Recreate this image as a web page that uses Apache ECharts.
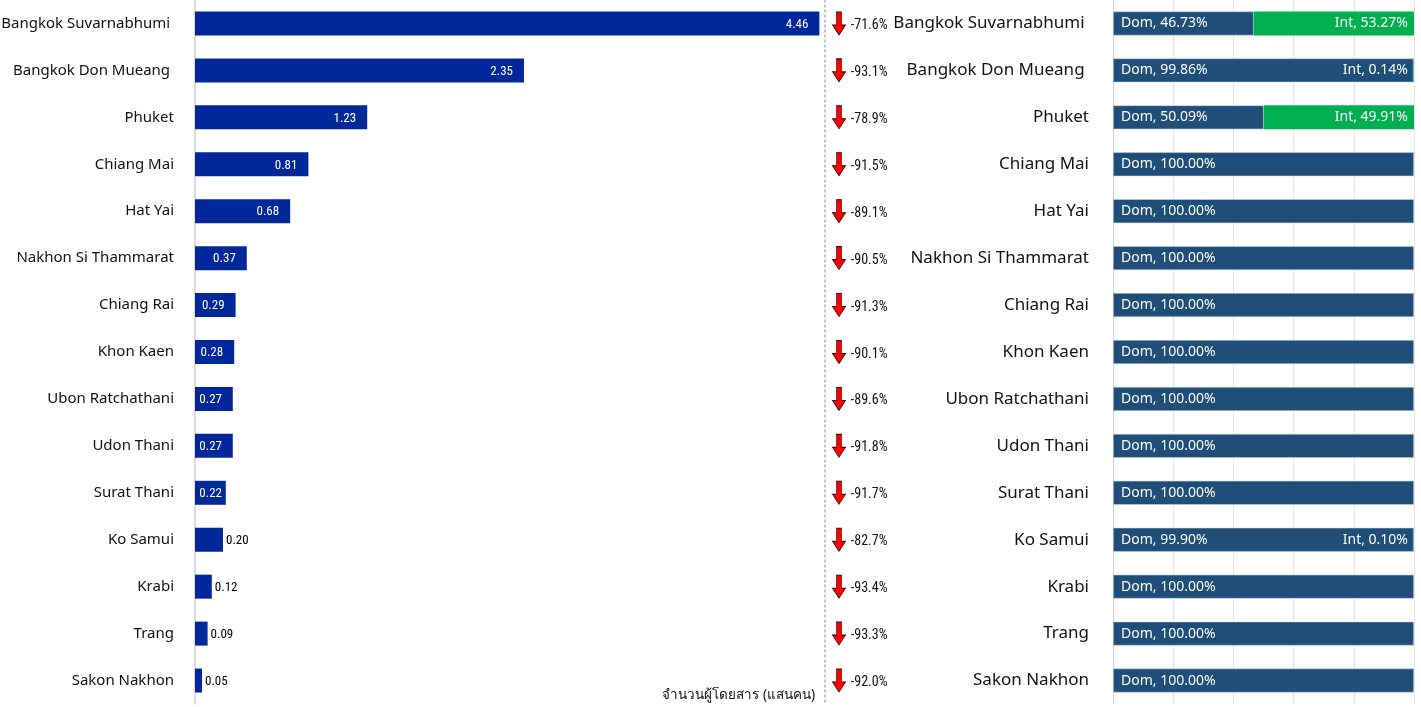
<!DOCTYPE html>
<html>
<head>
<meta charset="utf-8">
<script src="https://cdn.jsdelivr.net/npm/echarts@6/dist/echarts.min.js"></script>
<style>
html,body{margin:0;padding:0;background:#fff;}
#c{width:1421px;height:707px;}
</style>
</head>
<body>
<div id="c"></div>
<script>
const airports = ['Bangkok Suvarnabhumi ','Bangkok Don Mueang ','Phuket','Chiang Mai','Hat Yai','Nakhon Si Thammarat','Chiang Rai','Khon Kaen','Ubon Ratchathani','Udon Thani','Surat Thani','Ko Samui','Krabi','Trang','Sakon Nakhon'];
const passengers = [4.46,2.35,1.23,0.81,0.68,0.37,0.29,0.28,0.27,0.27,0.22,0.20,0.12,0.09,0.05];
const changePct = [-71.6,-93.1,-78.9,-91.5,-89.1,-90.5,-91.3,-90.1,-89.6,-91.8,-91.7,-82.7,-93.4,-93.3,-92.0];
const domShare = [46.73,99.86,50.09,100,100,100,100,100,100,100,100,99.90,100,100,100];
const intShare = [53.27,0.14,49.91,0,0,0,0,0,0,0,0,0.10,0,0,0];
const xAxisName = 'จำนวนผู้โดยสาร (แสนคน)';

const chart = echarts.init(document.getElementById('c'));
const F = '"Noto Sans", "Liberation Sans", sans-serif';
const NARROW = '"Liberation Sans Narrow", "Roboto Condensed", "Liberation Sans", sans-serif';
const TOP = 0, H = 704;
const LEFT_W = 630, LEFT_MAX = 4.5;

const passData = passengers.map(v => {
  const inside = v > 0.21;
  const px = v / LEFT_MAX * LEFT_W;
  return {
    value: v,
    label: inside
      ? {position: 'insideRight', distance: Math.max(3, Math.min(11, px - 27)), color: '#ffffff'}
      : {position: 'right', distance: 3, color: '#000000'}
  };
});

chart.setOption({
  animation: false,
  title: {
    text: xAxisName,
    right: 601, bottom: 0,
    textStyle: {fontFamily: F, fontSize: 13.5, fontWeight: 'normal', color: '#111'}
  },
  grid: [
    {left: 195, top: TOP, width: LEFT_W, height: H, containLabel: false, outerBoundsMode: 'none'},
    {left: 825, top: TOP, width: 80, height: H, containLabel: false, outerBoundsMode: 'none'},
    {left: 1113, top: TOP, right: 7, height: H, containLabel: false, outerBoundsMode: 'none'}
  ],
  xAxis: [
    {gridIndex: 0, type: 'value', min: 0, max: LEFT_MAX, show: false},
    {gridIndex: 1, type: 'value', min: 0, max: 1, show: false},
    {gridIndex: 2, type: 'value', min: 0, max: 100, interval: 20,
      axisLabel: {show: false}, axisLine: {show: false}, axisTick: {show: false},
      splitLine: {show: true, lineStyle: {color: '#e6e6e6', width: 1}}}
  ],
  yAxis: [
    {gridIndex: 0, type: 'category', data: airports, inverse: true,
      axisLine: {show: true, lineStyle: {color: '#d0d0d0', width: 1.5}},
      axisTick: {show: false},
      axisLabel: {margin: 21, fontFamily: F, fontSize: 15, color: '#111'}},
    {gridIndex: 1, type: 'category', data: airports, inverse: true,
      axisLine: {show: true, lineStyle: {color: '#9fb3d6', width: 1.5, type: [2, 3]}},
      axisTick: {show: false}, axisLabel: {show: false}},
    {gridIndex: 2, type: 'category', data: airports, inverse: true,
      axisLine: {show: true, lineStyle: {color: '#d0d0d0', width: 1}},
      axisTick: {show: false},
      axisLabel: {margin: 24, fontFamily: F, fontSize: 17, color: '#111'}}
  ],
  series: [
    {
      type: 'bar', xAxisIndex: 0, yAxisIndex: 0,
      data: passData, barWidth: 24,
      itemStyle: {color: '#00289B'},
      label: {show: true, fontFamily: NARROW, fontSize: 13, offset: [0, 1],
        formatter: p => p.value.toFixed(2)}
    },
    {
      type: 'scatter', xAxisIndex: 1, yAxisIndex: 1,
      data: changePct.map((v, i) => [0, i]),
      symbol: 'path://M4,0 L9,0 L9,13 L13,13 L6.5,23 L0,13 L4,13 Z',
      symbolSize: [13, 23], symbolOffset: [14, 0],
      itemStyle: {color: '#ff0000', borderColor: '#3a0000', borderWidth: 0.8, opacity: 1},
      label: {show: true, position: 'right', distance: 5, offset: [0, 2],
        fontFamily: NARROW, fontSize: 14, color: '#111',
        formatter: p => changePct[p.dataIndex].toFixed(1) + '%'}
    },
    {
      name: 'Dom', type: 'bar', stack: 's', xAxisIndex: 2, yAxisIndex: 2,
      data: domShare, barWidth: 24,
      itemStyle: {color: '#1F4E79', borderColor: '#c9d3e0', borderWidth: 0.6},
      label: {show: true, position: 'insideLeft', distance: 8, color: '#fff',
        fontFamily: F, fontSize: 14,
        formatter: p => 'Dom, ' + p.value.toFixed(2) + '%'}
    },
    {
      name: 'Int', type: 'bar', stack: 's', xAxisIndex: 2, yAxisIndex: 2,
      data: intShare, barWidth: 24,
      itemStyle: {color: '#00B050'},
      label: {show: true, position: 'insideRight', distance: 6, color: '#fff',
        fontFamily: F, fontSize: 14,
        formatter: p => p.value > 0 ? 'Int, ' + p.value.toFixed(2) + '%' : ''}
    }
  ]
});
</script>
</body>
</html>
